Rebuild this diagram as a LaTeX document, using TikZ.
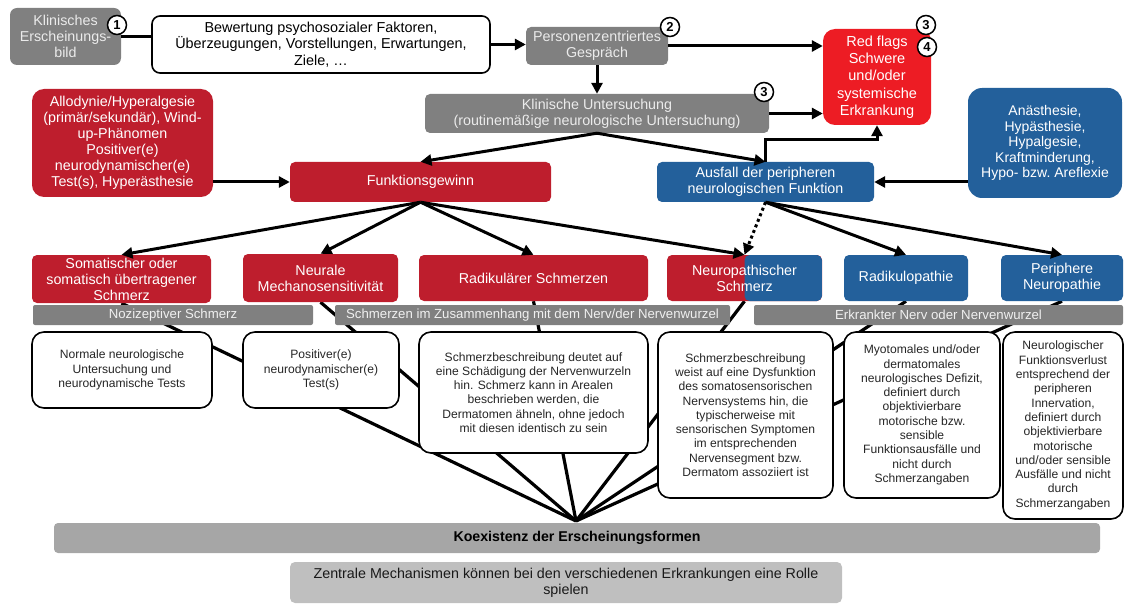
\documentclass[tikz,border=0pt]{standalone}
\usepackage{fontspec}
\setmainfont{Liberation Sans}
\usepackage{xcolor}
\usetikzlibrary{arrows.meta,positioning,calc,backgrounds}

\definecolor{darkred}{RGB}{190,30,45}
\definecolor{flagred}{RGB}{237,28,36}
\definecolor{nerveblue}{RGB}{35,96,155}
\definecolor{midgrey}{RGB}{128,128,128}
\definecolor{koexgrey}{RGB}{166,166,166}
\definecolor{zentgrey}{RGB}{191,191,191}

\begin{document}
\begin{tikzpicture}[
    x=1pt, y=-1pt,
    >={Triangle[length=11pt,width=11pt]},
    wh/.style 2 args={minimum width=#1pt, minimum height=#2pt},
    box/.style={fill=#1, rounded corners=5pt, inner sep=0pt, align=center,
                text=white, font=\fontsize{14.3}{16}\selectfont},
    box/.default=midgrey,
    greybox/.style={box, text=black!8},
    desc/.style={draw, line width=1.6pt, rounded corners=12pt, fill=white,
                 inner sep=0pt, align=center, text=black!85,
                 font=\fontsize{12.1}{14.3}\selectfont},
    bar/.style={fill=midgrey, inner sep=0pt, rounded corners=2pt,
                text=black!6, font=\fontsize{13.2}{14}\selectfont},
    num/.style={circle, draw, line width=1.5pt, fill=white, inner sep=0pt,
                minimum size=19pt, font=\fontsize{13}{13}\selectfont\bfseries},
    arr/.style={->, line width=3pt},
    fan/.style={line width=3.2pt},
  ]
  \useasboundingbox (0,0) rectangle (1124,604);

  % assessment
  \node[greybox, wh={111}{57}, rounded corners=7pt] (klin) at (65.5,36.5) {Klinisches\\Erscheinungs-\\bild};
  \node[desc, wh={338}{57}, rounded corners=8pt, text=black, font=\fontsize{14.4}{16.5}\selectfont] (bew) at (321,44.5)
    {Bewertung psychosozialer Faktoren,\\Überzeugungen, Vorstellungen, Erwartungen,\\Ziele, …};
  \node[greybox, wh={142}{38}] (pers) at (597,46) {Personenzentriertes\\Gespräch};
  \node[greybox, wh={344}{39}] (unters) at (597,113.5) {Klinische Untersuchung\\(routinemäßige neurologische Untersuchung)};
  \node[box=flagred, wh={108}{96}, rounded corners=12pt, font=\fontsize{14.5}{17.3}\selectfont] (flags) at (877,77)
    {Red flags\\Schwere\\und/oder\\systemische\\Erkrankung};
  \node[box=darkred, wh={181}{108}, rounded corners=12pt] (allo) at (122.5,143)
    {Allodynie/Hyperalgesie\\(primär/sekundär), Wind-\\up-Phänomen\\Positiver(e)\\neurodynamischer(e)\\Test(s), Hyperästhesie};
  \node[box=nerveblue, wh={154}{110}, rounded corners=14pt, font=\fontsize{14}{15.6}\selectfont] (anast) at (1045,143)
    {Anästhesie,\\Hypästhesie,\\Hypalgesie,\\Kraftminderung,\\Hypo- bzw.\ Areflexie};
  \node[box=darkred, wh={261}{40}] (gain) at (420.5,182) {Funktionsgewinn};
  \node[box=nerveblue, wh={217}{40}] (loss) at (765.5,182) {Ausfall der peripheren\\neurologischen Funktion};

  % pain types
  \node[box=darkred, wh={179}{48}] (soma) at (121.5,279) {Somatischer oder\\somatisch übertragener\\Schmerz};
  \node[box=darkred, wh={155}{48}] (neural) at (320.5,278) {Neurale\\Mechanosensitivität};
  \node[box=darkred, wh={229}{46}] (radik) at (533.5,278) {Radikulärer Schmerzen};
  \node[box=darkred, wh={155}{46}, path picture={\fill[nerveblue] (path picture bounding box.south)
    rectangle (path picture bounding box.north east);}] (neuro) at (744.5,278) {Neuropathischer\\Schmerz};
  \node[box=nerveblue, wh={124}{46}] (radpath) at (906,278) {Radikulopathie};
  \node[box=nerveblue, wh={122}{46}] (periph) at (1062,278) {Periphere\\Neuropathie};

  \node[bar, wh={280}{20}] (nozi) at (173,315) {Nozizeptiver Schmerz};
  \node[bar, wh={395}{20}] (nerv) at (532.5,315) {Schmerzen im Zusammenhang mit dem Nerv/der Nervenwurzel};
  \node[bar, wh={369}{20}] (erkr) at (938.5,315) {Erkrankter Nerv oder Nervenwurzel};

  % findings
  \node[desc, wh={180}{76}] (dnorm) at (122,370) {Normale neurologische\\Untersuchung und\\neurodynamische Tests};
  \node[desc, wh={156}{76}] (dpos) at (321,370) {Positiver(e)\\neurodynamischer(e)\\Test(s)};
  \node[desc, wh={229}{121}] (ddeut) at (533.5,392.5)
    {Schmerzbeschreibung deutet auf\\eine Schädigung der Nervenwurzeln\\hin. Schmerz kann in Arealen\\beschrieben werden, die\\Dermatomen ähneln, ohne jedoch\\mit diesen identisch zu sein};
  \node[desc, wh={175}{166}] (dweist) at (745.5,415)
    {Schmerzbeschreibung\\weist auf eine Dysfunktion\\des somatosensorischen\\Nervensystems hin, die\\typischerweise mit\\sensorischen Symptomen\\im entsprechenden\\Nervensegment bzw.\\Dermatom assoziiert ist};
  \node[desc, wh={156}{166}] (dmyo) at (922,415)
    {Myotomales und/oder\\dermatomales\\neurologisches Defizit,\\definiert durch\\objektivierbare\\motorische bzw.\\sensible\\Funktionsausfälle und\\nicht durch\\Schmerzangaben};
  \node[desc, wh={120}{187}] (dneur) at (1063,425.5)
    {Neurologischer\\Funktionsverlust\\entsprechend der\\peripheren\\Innervation,\\definiert durch\\objektivierbare\\motorische\\und/oder sensible\\Ausfälle und nicht\\durch\\Schmerzangaben};

  \node[box=koexgrey, wh={1046}{30}, rounded corners=4pt, text=black, font=\fontsize{14.2}{16}\selectfont\bfseries] (koex) at (577,538)
    {Koexistenz der Erscheinungsformen};
  \node[box=zentgrey, wh={552}{41}, text=black!90] (zentr) at (566,582.5)
    {Zentrale Mechanismen können bei den verschiedenen Erkrankungen eine Rolle\\spielen};

  % step numbers
  \node[num] (n1) at (117,25) {1};
  \node[num] (n2) at (670,27) {2};
  \node[num] (n3a) at (764,92) {3};
  \node[num] (n3b) at (926,25) {3};
  \node[num] (n4) at (927,47) {4};

  \draw[line width=3pt] (klin.east) -- (klin.east -| bew.west);
  \draw[arr] (bew.east) -- (bew.east -| pers.west);
  \draw[arr] (pers.east) -- (pers.east -| flags.west);
  \draw[arr] (pers) -- (unters);
  \draw[arr] (unters.east) -- (unters.east -| flags.west);
  \draw[arr] (unters.south) -- (gain.north);
  \draw[arr] (unters.south) -- (loss.north);
  \draw[arr] (loss.north) -- ++(0,-22) -| (flags.south);
  \draw[arr] (allo.east |- gain) -- (gain.west);
  \draw[arr] (anast.west |- loss) -- (loss.east);
  \foreach \t in {soma,neural,radik,neuro}
    \draw[arr] (gain.south) -- (\t.north);
  \draw[arr, dash pattern=on 3pt off 3pt] (loss.south) -- (neuro.north);
  \foreach \t in {radpath,periph}
    \draw[arr] (loss.south) -- (\t.north);

  % all types meet here
  \coordinate (hub) at (576,521);
  \begin{scope}[on background layer]
    \foreach \t in {soma,neural,radik,neuro,radpath,periph}
      \draw[fan] (\t.south) -- (hub);
  \end{scope}
\end{tikzpicture}
\end{document}
